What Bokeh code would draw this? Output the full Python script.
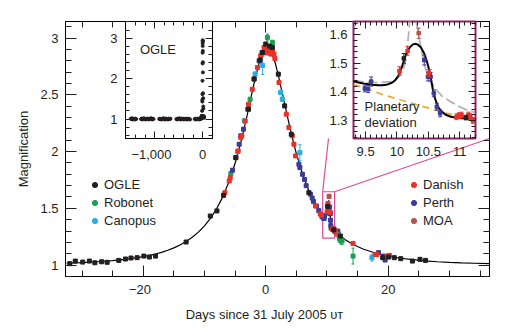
from bokeh.plotting import figure
from bokeh.models import (Range1d, FixedTicker, LinearAxis, CustomJSTickFormatter,
                          Legend, LegendItem, Label, ColumnDataSource)
from bokeh.layouts import column
from bokeh.embed import file_html
from bokeh.resources import INLINE

FONT = "Liberation Sans"
TXT = "#231f20"

# ------------------------------------------------------------------ data
# OGLE (black)
ogle_t = [-32.0, -31.1, -29.9, -28.8, -27.9, -26.8, -25.9, -24.0, -22.9, -22.0,
          -21.0, -19.9, -19.0, -18.0, -13.0, -9.05, -7.97, -6.88, -4.88, -2.8,
          -1.9, -0.92, -0.54, 0.0, 0.65, 1.09, 2.06, 3.09, 4.18, 7.05,
          10.11, 11.1, 12.2, 19.1, 20.05, 21.0, 22.06, 23.96, 25.2, 26.1]
ogle_mag = [1.012, 1.035, 1.026, 1.035, 1.020, 1.029, 1.024, 1.041, 1.053, 1.062,
            1.065, 1.079, 1.071, 1.079, 1.203, 1.432, 1.477, 1.615, 1.947, 2.374,
            2.640, 2.807, 2.874, 2.948, 2.930, 2.918, 2.683, 2.403, 2.153, 1.638,
            1.517, 1.310, 1.256, 1.065, 1.070, 1.065, 1.056, 1.035, 1.050, 1.041]
ogle_err = [0.010, 0.010, 0.010, 0.010, 0.010, 0.010, 0.010, 0.010, 0.010, 0.010,
            0.010, 0.010, 0.010, 0.010, 0.012, 0.012, 0.012, 0.012, 0.015, 0.015,
            0.015, 0.015, 0.015, 0.015, 0.015, 0.015, 0.015, 0.015, 0.015, 0.012,
            0.017, 0.008, 0.010, 0.010, 0.010, 0.010, 0.010, 0.010, 0.010, 0.010]

# Robonet (green)
rob_t = [-5.69, -2.98, -2.55, 0.27, 1.09, 11.9, 12.0, 12.1, 12.25, 12.47, 14.26]
rob_mag = [1.806, 2.374, 2.462, 3.006, 2.962, 1.275, 1.245, 1.230, 1.215, 1.212, 1.079]
rob_err = [0.015, 0.015, 0.015, 0.030, 0.020, 0.030, 0.030, 0.030, 0.030, 0.030, 0.070]

# Canopus (cyan)
can_t = [-4.6, -3.5, -1.73, -0.5, 2.44, 2.71, 5.58, 17.35]
can_mag = [2.000, 2.271, 2.683, 2.760, 2.521, 2.462, 1.991, 1.065]
can_err = [0.020, 0.020, 0.020, 0.080, 0.020, 0.020, 0.070, 0.030]

# Danish (red)
dan_t = [-6.67, -5.96, -5.8, -4.88, -4.5, -4.07, -3.9, -3.35, -2.8, -2.2,
         -1.9, -1.35, -0.81, -0.27, 0.0, 0.27, 0.54, 0.81, 0.81, 1.09,
         1.35, 1.5, 2.17, 3.36, 3.79, 4.34, 4.61, 4.88, 8.13, 8.9,
         9.1, 10.04, 10.17, 10.508, 10.95, 10.99, 11.03, 11.14, 11.17, 11.21,
         11.4, 14.26, 17.89, 18.16, 19.8, 20.2]
dan_mag = [1.638, 1.741, 1.770, 1.947, 2.006, 2.124, 2.139, 2.270, 2.418, 2.550,
           2.639, 2.741, 2.845, 2.918, 2.870, 2.900, 2.889, 2.860, 2.903, 2.880,
           2.860, 2.820, 2.609, 2.330, 2.212, 2.139, 2.065, 1.962, 1.521, 1.450,
           1.440, 1.473, 1.543, 1.465, 1.313, 1.317, 1.319, 1.319, 1.313, 1.300,
           1.290, 1.191, 1.094, 1.094, 1.079, 1.085]
dan_err = [0.012, 0.012, 0.012, 0.012, 0.012, 0.012, 0.012, 0.012, 0.012, 0.012,
           0.012, 0.012, 0.012, 0.012, 0.012, 0.012, 0.012, 0.012, 0.012, 0.012,
           0.012, 0.012, 0.012, 0.012, 0.012, 0.012, 0.012, 0.012, 0.012, 0.012,
           0.012, 0.015, 0.015, 0.012, 0.010, 0.010, 0.010, 0.010, 0.010, 0.010,
           0.010, 0.012, 0.012, 0.012, 0.012, 0.012]

# Perth (blue)
per_t = [-5.42, -4.34, -4.07, -3.63, -1.08, -0.6, 5.42, 5.58, 6.0, 6.34,
         6.61, 7.3, 7.59, 7.8, 8.3, 8.67, 9.2, 9.488, 9.54, 9.588,
         10.436, 10.495, 10.52, 10.536, 10.588, 10.637, 10.689, 11.76, 18.43, 19.24,
         19.5]
per_mag = [1.836, 2.065, 2.139, 2.198, 2.800, 2.870, 1.888, 1.859, 1.800, 1.755,
           1.700, 1.625, 1.590, 1.560, 1.520, 1.480, 1.425, 1.412, 1.410, 1.436,
           1.511, 1.453, 1.463, 1.453, 1.395, 1.348, 1.325, 1.300, 1.109, 1.079,
           1.044]
per_err = [0.012, 0.012, 0.012, 0.012, 0.012, 0.012, 0.012, 0.012, 0.012, 0.012,
           0.012, 0.012, 0.012, 0.012, 0.012, 0.012, 0.012, 0.012, 0.012, 0.016,
           0.017, 0.015, 0.015, 0.015, 0.012, 0.012, 0.012, 0.012, 0.012, 0.012,
           0.012]

# MOA (brown-red)
moa_t = [10.347, 11.7]
moa_mag = [1.605, 1.272]
moa_err = [0.018, 0.012]

# Best-fit planetary model (black curve)
model_t = [-32.5, -30, -27.5, -25, -22.5, -20, -19, -18, -17, -16,
           -15, -14, -13, -12, -11, -10, -9, -8, -7, -6,
           -5, -4, -3, -2, -1, -0.5, 0, 0.5, 1, 1.5,
           2, 3, 4, 5, 6, 7, 8, 9, 9.31, 9.4,
           9.5, 9.6, 9.7, 9.77, 9.85, 9.92, 9.97, 10.02, 10.05, 10.09,
           10.13, 10.17, 10.21, 10.255, 10.3, 10.335, 10.38, 10.436, 10.48, 10.516,
           10.546, 10.576, 10.61, 10.657, 10.71, 10.777, 10.86, 10.978, 11.1, 11.24,
           12, 13, 14, 15, 16, 18, 20, 22, 24, 26,
           28, 30, 32, 34, 36.6]
model_mag = [1.017, 1.022, 1.029, 1.039, 1.053, 1.074, 1.085, 1.097, 1.112, 1.130,
             1.151, 1.177, 1.208, 1.245, 1.290, 1.346, 1.414, 1.498, 1.603, 1.734,
             1.897, 2.095, 2.329, 2.579, 2.799, 2.874, 2.914, 2.912, 2.870, 2.792,
             2.688, 2.444, 2.199, 1.983, 1.805, 1.660, 1.544, 1.451, 1.437, 1.432,
             1.428, 1.425, 1.423, 1.423, 1.426, 1.432, 1.440, 1.455, 1.469, 1.495,
             1.522, 1.543, 1.557, 1.566, 1.568, 1.565, 1.556, 1.534, 1.505, 1.475,
             1.440, 1.405, 1.375, 1.347, 1.332, 1.320, 1.313, 1.309, 1.307, 1.305,
             1.265, 1.224, 1.190, 1.163, 1.139, 1.104, 1.079, 1.060, 1.047, 1.037,
             1.029, 1.023, 1.019, 1.016, 1.012]

# Alternative (binary-source) model, grey dashed in inset
alt_t = [9.31, 9.5, 9.7, 9.9, 10.0, 10.06, 10.1, 10.13, 10.155, 10.17,
         10.19, 10.205, 10.25, 10.29, 10.316, 10.355, 10.416, 10.456, 10.516, 10.56,
         10.636, 10.72, 10.86, 11.0, 11.1, 11.24]
alt_mag = [1.440, 1.434, 1.432, 1.436, 1.447, 1.460, 1.480, 1.500, 1.530, 1.568,
           1.610, 1.660, 2.000, 1.660, 1.634, 1.587, 1.517, 1.482, 1.446, 1.430,
           1.405, 1.385, 1.365, 1.348, 1.338, 1.328]

# Single-lens (no planet) model, orange dashed in inset
single_t = [9.31, 9.8, 10.3, 10.8, 11.25]
single_mag = [1.426, 1.389, 1.356, 1.325, 1.301]

# OGLE baseline seasons (left inset)
s1_t = [-1500, -1488, -1476, -1463, -1450, -1437, -1424, -1411, -1398, -1386]
s1_mag = [1.01, 1.00, 1.02, 0.99, 1.00, 1.01, 1.00, 0.99, 1.01, 1.00]
s2_t = [-1286, -1273, -1260, -1247, -1234, -1221, -1208, -1195, -1182, -1169,
        -1156, -1143, -1130, -1117, -1104, -1091, -1078, -1065, -1052, -1039, -1026]
s2_mag = [1.00, 1.01, 0.99, 1.00, 1.02, 1.00, 1.01, 0.99, 1.00, 1.00,
          1.01, 1.00, 0.99, 1.01, 1.00, 1.00, 1.02, 1.00, 0.99, 1.01, 1.00]
s3_t = [-906, -893, -880, -867, -854, -841, -828, -815, -802, -789,
        -776, -763, -750, -737, -724, -711, -698, -685, -672]
s3_mag = [1.00, 1.01, 1.00, 0.99, 1.00, 1.01, 1.00, 1.02, 1.00, 0.99,
          1.00, 1.01, 1.00, 1.00, 0.99, 1.01, 1.00, 1.00, 1.01]
s4_t = [-549, -536, -523, -510, -497, -484, -471, -458, -445, -432,
        -419, -406, -393, -380, -367, -354, -341, -328, -315, -302,
        -289, -276, -264]
s4_mag = [1.00, 0.99, 1.01, 1.00, 1.00, 1.02, 1.00, 0.99, 1.01, 1.00,
          1.00, 1.01, 0.99, 1.00, 1.00, 1.01, 1.00, 0.99, 1.00, 1.01,
          1.00, 1.00, 0.99]
s5_t = [-167, -154, -141, -128, -115, -102, -89, -76, -63, -50, -40]
s5_mag = [1.00, 1.01, 0.99, 1.00, 1.00, 1.01, 1.00, 0.99, 1.01, 1.00, 1.00]

# texts
legend_left = ["OGLE", "Robonet", "Canopus"]
legend_right = ["Danish", "Perth", "MOA"]
x_title = "Days since 31 July 2005 \u1d1c\u1d1b"
y_title = "Magnification"

COL = {"OGLE": "#231f20", "Robonet": "#1f9e55", "Canopus": "#27aee3",
       "Danish": "#e8322b", "Perth": "#3b3c98", "MOA": "#b3544f"}
PINK = "#e0489c"
INSET_BORDER = "#8f2464"
GREY = "#b4b4b4"
ORANGE = "#eeaa33"

# ------------------------------------------------------------------ geometry
W, H = 513, 329
MAIN_X = (-32.7, 36.55)
MAIN_Y = (0.899, 3.147)
MF = dict(l=65, r=489, t=21, b=276)           # main frame in px
LIN_X = (-1610, 204)
LIN_Y = (0.52, 3.41)
LF = dict(l=99, r=226, t=21, b=138)           # left inset frame px
RIN_X = (9.307, 11.253)
RIN_Y = (1.237, 1.646)
RF = dict(l=328, r=489, t=21, b=138)          # right inset frame px


def main_data(px, py):
    x = MAIN_X[0] + (px - MF["l"]) / (MF["r"] - MF["l"]) * (MAIN_X[1] - MAIN_X[0])
    y = MAIN_Y[1] - (py - MF["t"]) / (MF["b"] - MF["t"]) * (MAIN_Y[1] - MAIN_Y[0])
    return x, y


def fmt():
    return CustomJSTickFormatter(code="""
        const a = Math.abs(tick);
        let s = String(parseFloat(a.toFixed(4)));
        s = s.replace(/\\B(?=(\\d{3})+(?!\\d))/g, ',');
        return tick < 0 ? '\\u2212' + s + '\\u2002' : s;
    """)


def blank_fmt():
    return CustomJSTickFormatter(code="return '';")


def style_axis(ax, major, minor, show=True, fs="13px", standoff=6, line_color="black"):
    ax.major_tick_in = major
    ax.major_tick_out = 0
    ax.minor_tick_in = minor
    ax.minor_tick_out = 0
    ax.major_tick_line_color = "#231f20"
    ax.minor_tick_line_color = "#231f20"
    ax.axis_line_color = line_color
    ax.formatter = fmt() if show else blank_fmt()
    ax.major_label_text_font = FONT
    ax.major_label_text_color = TXT
    ax.major_label_text_font_size = fs
    ax.major_label_standoff = standoff if show else 0


def setup_axes(fig, xt, yt, major, minor, xstand, ystand, line_color="black"):
    bottom = fig.below[0]
    left = fig.left[0]
    bottom.ticker = xt
    left.ticker = yt
    style_axis(bottom, major, minor, True, standoff=xstand, line_color=line_color)
    style_axis(left, major, minor, True, standoff=ystand, line_color=line_color)
    top = LinearAxis(ticker=xt)
    right = LinearAxis(ticker=yt)
    style_axis(top, major, minor, False, line_color=line_color)
    style_axis(right, major, minor, False, line_color=line_color)
    fig.add_layout(top, "above")
    fig.add_layout(right, "right")
    return bottom, left


def draw_series(fig, t, m, e, color, size, cap):
    src = ColumnDataSource(dict(t=t, m=m,
                                lo=[a - b for a, b in zip(m, e)],
                                hi=[a + b for a, b in zip(m, e)]))
    fig.segment(x0="t", y0="lo", x1="t", y1="hi", source=src, line_color=color, line_width=1)
    fig.scatter(x="t", y="lo", source=src, marker="dash", size=cap, line_color=color, line_width=1)
    fig.scatter(x="t", y="hi", source=src, marker="dash", size=cap, line_color=color, line_width=1)
    dot = fig.scatter(x="t", y="m", source=src, marker="circle", size=size - 1,
                      fill_color=color, line_color=color)
    fig.scatter(x="t", y="m", source=src, marker="square", size=size,
                fill_color=color, line_color=color)
    return dot


series = [("Canopus", can_t, can_mag, can_err),
          ("Robonet", rob_t, rob_mag, rob_err),
          ("Perth", per_t, per_mag, per_err),
          ("Danish", dan_t, dan_mag, dan_err),
          ("MOA", moa_t, moa_mag, moa_err),
          ("OGLE", ogle_t, ogle_mag, ogle_err)]

# ------------------------------------------------------------------ main plot
p = figure(width=W, height=H, x_range=Range1d(*MAIN_X), y_range=Range1d(*MAIN_Y),
           output_backend="svg", toolbar_location=None,
           min_border_left=MF["l"], min_border_right=W - MF["r"],
           min_border_top=MF["t"], min_border_bottom=H - MF["b"])
p.grid.visible = False
p.outline_line_color = "black"
p.background_fill_color = "white"
p.border_fill_color = "white"

x_major = [-20, 0, 20]
x_minor = [-30, -25, -15, -10, -5, 5, 10, 15, 25, 30, 35]
y_major = [1, 1.5, 2, 2.5, 3]
y_minor = [round(0.9 + 0.1 * i, 2) for i in range(23)]
xa, ya = setup_axes(p, FixedTicker(ticks=x_major, minor_ticks=x_minor),
                    FixedTicker(ticks=y_major, minor_ticks=y_minor), 11, 6, 5, 7)
ya.axis_label = y_title
ya.axis_label_text_font = FONT
ya.axis_label_text_font_size = "13px"
ya.axis_label_text_font_style = "normal"
ya.axis_label_text_color = TXT
ya.axis_label_standoff = 6
xa.axis_label = x_title + "\u2003\u2003"
xa.axis_label_text_font = FONT
xa.axis_label_text_font_size = "13px"
xa.axis_label_text_font_style = "normal"
xa.axis_label_text_color = TXT
xa.axis_label_standoff = 7

# zoom box and connectors
p.quad(left=[RIN_X[0]], right=[RIN_X[1]], bottom=[RIN_Y[0]], top=[RIN_Y[1]],
       fill_color=None, line_color=PINK, line_width=1.2)
bl = main_data(RF["l"], RF["b"])
br = main_data(RF["r"], RF["b"])
p.segment(x0=[RIN_X[0], RIN_X[1]], y0=[RIN_Y[1], RIN_Y[1]],
          x1=[bl[0], br[0]], y1=[bl[1], br[1]], line_color=PINK, line_width=1.2)

p.line(model_t, model_mag, line_color="black", line_width=1.2)
dots = {}
for name, t, m, e in series:
    dots[name] = draw_series(p, t, m, e, COL[name], 4, 3)


def make_legend(names, loc):
    items = [LegendItem(label=n, renderers=[dots[n]]) for n in names]
    lg = Legend(items=items, location=loc, orientation="vertical", padding=0, spacing=0,
                margin=0, glyph_width=13, glyph_height=13, label_height=18, label_standoff=3,
                background_fill_alpha=0, border_line_alpha=0,
                label_text_font=FONT, label_text_font_size="13px", label_text_color=TXT)
    p.add_layout(lg)


make_legend(legend_left, (23, 47))
make_legend(legend_right, (342, 47))

# ------------------------------------------------------------------ left inset (OGLE baseline)
lw = (LF["r"] - LF["l"]) + 39 + 10
lh = 170
lin = figure(width=lw, height=lh, x_range=Range1d(*LIN_X), y_range=Range1d(*LIN_Y),
             output_backend="svg", toolbar_location=None,
             min_border_left=39, min_border_right=10, min_border_top=LF["t"],
             min_border_bottom=lh - LF["b"])
lin.grid.visible = False
lin.outline_line_color = "black"
lin.background_fill_color = "white"
lin.border_fill_alpha = 0
setup_axes(lin, FixedTicker(ticks=[-1000, 0], minor_ticks=[-1600, -1400, -1200, -800, -600, -400, -200, 200]),
           FixedTicker(ticks=[1, 2, 3], minor_ticks=[round(0.6 + 0.2 * i, 2) for i in range(15)]),
           7, 4, 8, 8)
base_t = s1_t + s2_t + s3_t + s4_t + s5_t + ogle_t
base_mag = s1_mag + s2_mag + s3_mag + s4_mag + s5_mag + ogle_mag
lin.scatter(base_t, base_mag, marker="circle", size=3, fill_color=COL["OGLE"], line_color=COL["OGLE"])
lin.add_layout(Label(x=-1310, y=2.72, text="OGLE", text_font=FONT, text_font_size="13px",
                     text_color=TXT, text_baseline="middle"))
lin.styles = {"position": "absolute", "left": f"{LF['l'] - 39}px", "top": "0px"}

# ------------------------------------------------------------------ right inset (planetary deviation)
rw = (RF["r"] - RF["l"]) + 40 + 10
rh = 170
rin = figure(width=rw, height=rh, x_range=Range1d(*RIN_X), y_range=Range1d(*RIN_Y),
             output_backend="svg", toolbar_location=None,
             min_border_left=40, min_border_right=10, min_border_top=RF["t"],
             min_border_bottom=rh - RF["b"])
rin.grid.visible = False
rin.outline_line_color = INSET_BORDER
rin.outline_line_width = 2
rin.background_fill_color = "white"
rin.border_fill_alpha = 0
setup_axes(rin, FixedTicker(ticks=[9.5, 10, 10.5, 11], minor_ticks=[round(9 + k / 12, 4) for k in range(3, 28)]),
           FixedTicker(ticks=[1.3, 1.4, 1.5, 1.6], minor_ticks=[round(1.22 + 0.02 * i, 2) for i in range(23)]),
           7, 4, 8, 6, line_color=None)
rin.line(single_t, single_mag, line_color=ORANGE, line_width=1.8, line_dash="7 5")
rin.line(alt_t, alt_mag, line_color=GREY, line_width=1.8, line_dash="10 4")
rin.line(model_t, model_mag, line_color="black", line_width=2)
for name, t, m, e in series:
    draw_series(rin, t, m, e, COL[name], 3.5, 4)
rin.add_layout(Label(x=9.484, y=1.349, text="Planetary", text_font=FONT, text_font_size="13px",
                     text_color=TXT, text_baseline="middle"))
rin.add_layout(Label(x=9.484, y=1.294, text="deviation", text_font=FONT, text_font_size="13px",
                     text_color=TXT, text_baseline="middle"))
rin.styles = {"position": "absolute", "left": f"{RF['l'] - 40}px", "top": "0px"}

root = column(p, lin, rin, spacing=0)
open("out.html", "w").write(file_html(root, INLINE))
